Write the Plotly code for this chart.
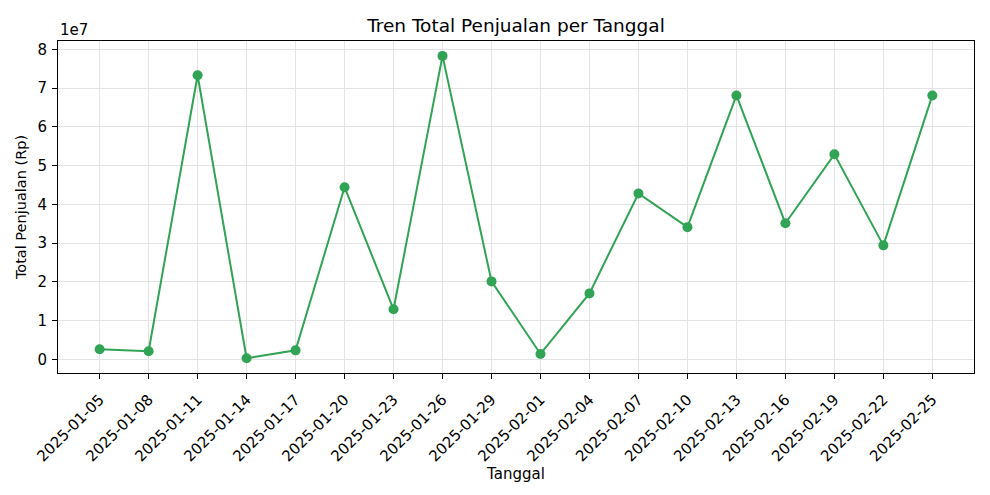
import plotly.graph_objects as go

dates = ["2025-01-05", "2025-01-08", "2025-01-11", "2025-01-14", "2025-01-17", "2025-01-20",
         "2025-01-23", "2025-01-26", "2025-01-29", "2025-02-01", "2025-02-04", "2025-02-07",
         "2025-02-10", "2025-02-13", "2025-02-16", "2025-02-19", "2025-02-22", "2025-02-25"]
sales = [2.58e6, 2.06e6, 7.33e7, 0.26e6, 2.3e6, 4.44e7,
         1.29e7, 7.83e7, 2.01e7, 1.37e6, 1.70e7, 4.28e7,
         3.41e7, 6.81e7, 3.51e7, 5.29e7, 2.94e7, 6.81e7]
ytick_vals = [0, 1e7, 2e7, 3e7, 4e7, 5e7, 6e7, 7e7, 8e7]
ytick_text = ["0", "1", "2", "3", "4", "5", "6", "7", "8"]

color = "#31a354"
font = "DejaVu Sans, sans-serif"

fig = go.Figure(go.Scatter(
    x=dates, y=sales, mode="lines+markers",
    line=dict(color=color, width=2),
    marker=dict(color=color, size=10),
))

axis_common = dict(
    showline=True, linecolor="black", linewidth=1, mirror=True,
    ticks="outside", ticklen=5, tickcolor="black", tickwidth=1,
    showgrid=True, gridcolor="#e3e3e3", gridwidth=1, zeroline=False,
    tickfont=dict(family=font, size=15, color="black"),
)

fig.update_layout(
    width=990, height=495,
    margin=dict(l=58, r=16, t=41, b=122),
    paper_bgcolor="white", plot_bgcolor="white",
    showlegend=False,
    title=dict(text="Tren Total Penjualan per Tanggal", x=(58 + 974) / 2 / 990, xanchor="center",
               y=1 - 26 / 495, yanchor="middle",
               font=dict(family=font, size=18.5, color="black")),
    xaxis=dict(type="category", range=[-0.85, len(dates) - 1 + 0.85], tickangle=-45,
               ticklabelstandoff=6,
               title=dict(text="Tanggal", font=dict(family=font, size=15, color="black"), standoff=0),
               **axis_common),
    yaxis=dict(range=[-3.55e6, 8.215e7], tickvals=ytick_vals, ticktext=ytick_text,
               ticklabelstandoff=2,
               title=dict(text="Total Penjualan (Rp)", font=dict(family=font, size=14.5, color="black"), standoff=7),
               **axis_common),
    annotations=[dict(text="1e7", xref="paper", yref="paper", x=0, y=1, xanchor="left", yanchor="bottom",
                      yshift=0, showarrow=False, font=dict(family=font, size=15, color="black"))],
)

fig.write_html("out.html")
